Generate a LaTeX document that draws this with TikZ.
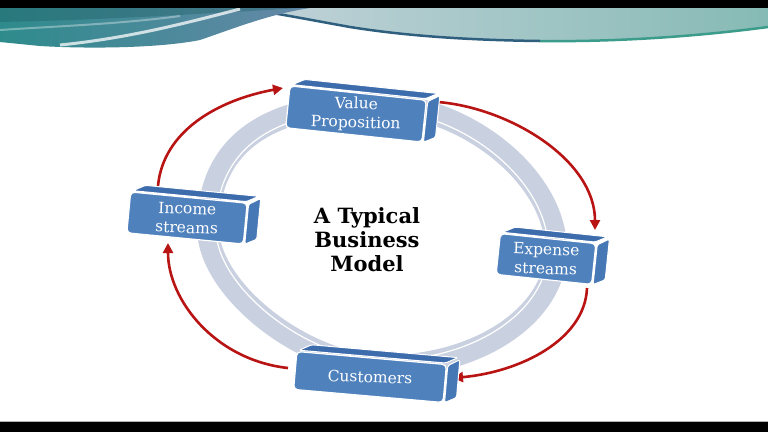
\documentclass[tikz,border=0pt]{standalone}
\usepackage{fontspec}
\setmainfont{DejaVu Serif}
\usetikzlibrary{arrows.meta}
\definecolor{boxblue}{HTML}{4F81BD}
\definecolor{boxtop}{HTML}{3D6CAD}
\definecolor{boxside}{HTML}{4678B6}
\definecolor{ringc}{HTML}{C9D0E0}
\definecolor{arrowred}{HTML}{B81414}
\definecolor{tealdark}{HTML}{1F5F66}
\definecolor{tealmid}{HTML}{2E8B8C}
\definecolor{steel}{HTML}{6688A8}
\definecolor{bandlight}{HTML}{C3D3DA}
\definecolor{bandteal}{HTML}{86BAB5}
\definecolor{edgeblue}{HTML}{2F5F7E}
\definecolor{edgegreen}{HTML}{3C9C8C}
\tikzset{
  frontface/.style={fill=boxblue, draw=white, line width=1.2pt, rounded corners=4pt},
  boxtext/.style={text=white, align=center, font=\fontsize{15.5}{19}\selectfont, inner sep=0pt},
  topface/.style={fill=boxtop, draw=white, line width=1pt, rounded corners=1.5pt},
  sideface/.style={fill=boxside, draw=white, line width=1pt, rounded corners=1.5pt},
  cyc/.style={draw=arrowred, line width=2.6pt, -{Triangle[length=10pt,width=10pt]}},
  ringline/.style={draw=ringc, line width=22pt},
  title/.style={font=\bfseries\fontsize{21}{24}\selectfont, align=center, inner sep=0pt}
}
\newcommand\bizbox[7]{%
  \begin{scope}[shift={(#2,#3)}, rotate=#6]
    \path[topface] (-#4/2+2,-#5/2-1.5) -- (#4/2-1,-#5/2-1.5) -- (#4/2+11,-#5/2-8) -- (-#4/2+14,-#5/2-8) -- cycle;
    \path[sideface] (#4/2+1.5,-#5/2+1) -- (#4/2+13,-#5/2-6) -- (#4/2+13,#5/2-6) -- (#4/2+1.5,#5/2) -- cycle;
    \path[frontface] (-#4/2,-#5/2) rectangle (#4/2,#5/2);
  \end{scope}
  \node[boxtext, rotate=-2] (#1) at (#2,#3) {#7};
}
\begin{document}
\begin{tikzpicture}[x=1pt,y=-1pt]
\useasboundingbox (0,0) rectangle (768,432);
\fill[white] (0,0) rectangle (768,432);
% banner
\shade[left color=bandlight, right color=bandteal] (235,8) -- (768,8) -- (768,27)
  .. controls (700,36) and (620,42) .. (540,41)
  .. controls (460,40) and (400,35) .. (350,27)
  .. controls (300,18) and (260,10) .. (235,8) -- cycle;
\draw[edgegreen, line width=2.5pt] (768,27) .. controls (700,36) and (620,42) .. (540,41);
\draw[edgeblue, line width=2.5pt] (540,41) .. controls (460,40) and (400,35) .. (350,27)
  .. controls (300,18) and (260,10) .. (235,8);
\shade[left color=tealmid, right color=steel] (0,8) -- (310,8)
  .. controls (270,14) and (235,28) .. (200,40)
  .. controls (160,48) and (90,49) .. (40,46) -- (0,42) -- cycle;
\fill[tealdark, opacity=0.4] (0,8) -- (300,8) .. controls (200,14) and (100,20) .. (0,22) -- cycle;
\draw[white, opacity=0.75, line width=3pt] (60,45) .. controls (130,38) and (190,22) .. (240,9);
\draw[white, opacity=0.35, line width=2pt] (0,30) .. controls (60,26) and (120,24) .. (180,16);
\fill[black] (0,0) rectangle (768,8);
\fill[black] (0,422) rectangle (768,432);
\draw[gray!60, line width=1pt] (0,421) -- (768,421);
% ring
\path[ringline] (208,228) .. controls (208,146) and (265,104) .. (375,104)
  .. controls (465,104) and (556,177) .. (556,250)
  .. controls (556,314) and (479,366) .. (385,366)
  .. controls (305,366) and (208,290) .. (208,228) -- cycle;
\begin{scope}[shift={(382,238)}, scale=0.955, shift={(-382,-238)}]
\draw[white, line width=1.2pt] (208,228) .. controls (208,146) and (265,104) .. (375,104)
  .. controls (465,104) and (556,177) .. (556,250)
  .. controls (556,314) and (479,366) .. (385,366)
  .. controls (305,366) and (208,290) .. (208,228) -- cycle;
\end{scope}
% title
\node[title] (ttl) at (367,240) {A Typical\\Business\\Model};
% connector ends
\coordinate (a1s) at (158,186); \coordinate (a1e) at (283,88);
\coordinate (a2s) at (438,102); \coordinate (a2e) at (595,230);
\coordinate (a3s) at (587,288); \coordinate (a3e) at (453,378);
\coordinate (a4s) at (288,368); \coordinate (a4e) at (168,243);
\draw[cyc] (a1s) .. controls +(5,-55) and +(-65,12) .. (a1e);
\draw[cyc] (a2s) .. controls +(72,6) and +(0,-70) .. (a2e);
\draw[cyc] (a3s) .. controls +(-2,52) and +(67,-6) .. (a3e);
\draw[cyc] (a4s) .. controls +(-73,-8) and +(0,57) .. (a4e);
% boxes
\bizbox{vp}{356}{114}{137}{42}{-6}{Value\\Proposition}
\bizbox{inc}{187}{218}{117}{41}{-5.5}{Income\\streams}
\bizbox{exp}{546}{259}{96}{41}{-6}{Expense\\streams}
\bizbox{cus}{370}{377}{150}{38}{-5}{Customers}
\end{tikzpicture}
\end{document}
